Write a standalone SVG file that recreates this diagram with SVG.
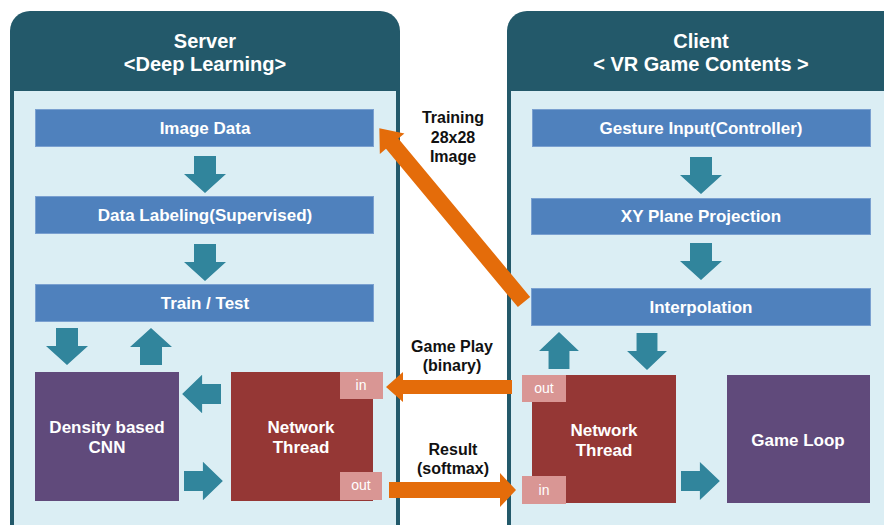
<svg xmlns="http://www.w3.org/2000/svg" width="884" height="525" viewBox="0 0 884 525">
  <style>
    .panel { fill: #23596A; }
    .inner { fill: #DBEEF4; }
    .step { fill: #4F81BD; stroke: #7AA0D0; stroke-width: 1; }
    .cnn { fill: #604A7B; }
    .net { fill: #953735; }
    .port { fill: #D99694; }
    .flow { fill: #31859C; }
    .link { fill: #E46C0A; }
    text { font-family: "Liberation Sans", Arial, sans-serif; text-anchor: middle; }
    .title { fill: #FFFFFF; font-size: 20px; font-weight: bold; }
    .lbl { fill: #FFFFFF; font-size: 17px; font-weight: bold; }
    .big { fill: #FFFFFF; font-size: 17px; font-weight: bold; }
    .portlbl { fill: #FFFFFF; font-size: 14px; }
    .msg { fill: #111111; font-size: 16px; font-weight: bold; }
  </style>
  <defs>
    <!-- block arrow pointing down, origin at top centre -->
    <path id="blk" d="M-11,0 H11 V18 H21 L0,37 L-21,18 H-11 Z"/>
  </defs>

  <rect width="884" height="525" fill="#FFFFFF"/>

  <!-- Server panel -->
  <g id="server">
    <rect class="panel" x="10" y="11" width="390" height="540" rx="20"/>
    <rect class="inner" x="14" y="91" width="382" height="460"/>
    <text class="title" x="205" y="48">Server</text>
    <text class="title" x="205" y="71">&lt;Deep Learning&gt;</text>
  </g>

  <!-- Client panel -->
  <g id="client">
    <rect class="panel" x="507" y="11" width="400" height="540" rx="20"/>
    <rect class="inner" x="511" y="91" width="392" height="460"/>
    <text class="title" x="701" y="48">Client</text>
    <text class="title" x="701" y="71">&lt; VR Game Contents &gt;</text>
  </g>

  <!-- Server steps -->
  <g id="image-data">
    <rect class="step" x="35.5" y="109.5" width="338" height="37"/>
    <text class="lbl" x="205" y="134">Image Data</text>
  </g>
  <g id="data-labeling">
    <rect class="step" x="35.5" y="196.5" width="338" height="37"/>
    <text class="lbl" x="205" y="221">Data Labeling(Supervised)</text>
  </g>
  <g id="train-test">
    <rect class="step" x="35.5" y="284.5" width="338" height="37"/>
    <text class="lbl" x="205" y="309">Train / Test</text>
  </g>
  <g id="density-cnn">
    <rect class="cnn" x="35" y="372" width="144" height="129"/>
    <text class="big" x="107" y="433">Density based</text>
    <text class="big" x="107" y="453">CNN</text>
  </g>
  <g id="server-network-thread">
    <rect class="net" x="231" y="372" width="142" height="129"/>
    <text class="big" x="301" y="433">Network</text>
    <text class="big" x="301" y="453">Thread</text>
    <rect class="port" x="340" y="372" width="43" height="27"/>
    <text class="portlbl" x="361" y="390">in</text>
    <rect class="port" x="340" y="472" width="42" height="28"/>
    <text class="portlbl" x="361" y="490">out</text>
  </g>

  <!-- Client steps -->
  <g id="gesture-input">
    <rect class="step" x="532.5" y="109.5" width="338" height="37"/>
    <text class="lbl" x="701" y="134">Gesture Input(Controller)</text>
  </g>
  <g id="xy-projection">
    <rect class="step" x="531.5" y="198.5" width="339" height="36"/>
    <text class="lbl" x="701" y="222">XY Plane Projection</text>
  </g>
  <g id="interpolation">
    <rect class="step" x="531.5" y="288.5" width="339" height="37"/>
    <text class="lbl" x="701" y="313">Interpolation</text>
  </g>
  <g id="client-network-thread">
    <rect class="net" x="532" y="375" width="144" height="128"/>
    <text class="big" x="604" y="436">Network</text>
    <text class="big" x="604" y="456">Thread</text>
    <rect class="port" x="522" y="375" width="44" height="27"/>
    <text class="portlbl" x="544" y="393">out</text>
    <rect class="port" x="522" y="476" width="44" height="28"/>
    <text class="portlbl" x="544" y="495">in</text>
  </g>
  <g id="game-loop">
    <rect class="cnn" x="727" y="375" width="143" height="128"/>
    <text class="big" x="798" y="446">Game Loop</text>
  </g>

  <!-- Connectors -->
  <g id="connectors">
    <!-- server flow -->
    <use href="#blk" class="flow" transform="translate(205,156)"/>
    <use href="#blk" class="flow" transform="translate(205,244)"/>
    <use href="#blk" class="flow" transform="translate(67,328)"/>
    <use href="#blk" class="flow" transform="translate(151,365) rotate(180)"/>
    <use href="#blk" class="flow" transform="translate(221,394) rotate(90) scale(0.92,1.05)"/>
    <use href="#blk" class="flow" transform="translate(184,481) rotate(-90) scale(0.92,1.05)"/>
    <!-- client flow -->
    <use href="#blk" class="flow" transform="translate(701,157)"/>
    <use href="#blk" class="flow" transform="translate(701,243)"/>
    <use href="#blk" class="flow" transform="translate(559,369) rotate(180) scale(0.95,1)"/>
    <use href="#blk" class="flow" transform="translate(647,333) scale(0.95,1)"/>
    <use href="#blk" class="flow" transform="translate(681,481) rotate(-90) scale(0.9,1.05)"/>

    <!-- network links between client and server -->
    <path class="link" transform="translate(524,302) rotate(230.2)" d="M0,-8 H206 V-16 L226,0 L206,16 V8 H0 Z"/>
    <path class="link" d="M512,380 V394 H403 V402 L386,387 L403,372 V380 Z"/>
    <path class="link" d="M389,482 H500 V473 L516,490 L500,507 V498 H389 Z"/>

    <text class="msg" x="453" y="123">Training</text>
    <text class="msg" x="453" y="143">28x28</text>
    <text class="msg" x="453" y="162">Image</text>
    <text class="msg" x="452" y="352">Game Play</text>
    <text class="msg" x="452" y="371">(binary)</text>
    <text class="msg" x="453" y="455">Result</text>
    <text class="msg" x="453" y="474">(softmax)</text>
  </g>
</svg>
